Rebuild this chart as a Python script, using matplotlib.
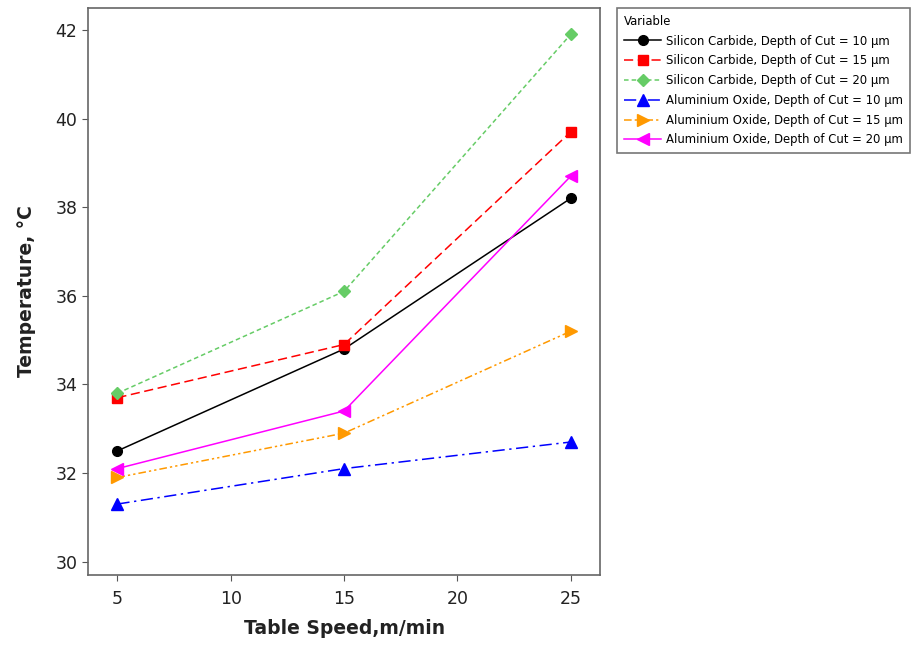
import matplotlib.pyplot as plt

# table speed (m/min) and measured temperatures (deg C)
speed = [5, 15, 25]
sic_10 = [32.5, 34.8, 38.2]
sic_15 = [33.7, 34.9, 39.7]
sic_20 = [33.8, 36.1, 41.9]
alo_10 = [31.3, 32.1, 32.7]
alo_15 = [31.9, 32.9, 35.2]
alo_20 = [32.1, 33.4, 38.7]

labels = [
    'Silicon Carbide, Depth of Cut = 10 µm',
    'Silicon Carbide, Depth of Cut = 15 µm',
    'Silicon Carbide, Depth of Cut = 20 µm',
    'Aluminium Oxide, Depth of Cut = 10 µm',
    'Aluminium Oxide, Depth of Cut = 15 µm',
    'Aluminium Oxide, Depth of Cut = 20 µm',
]
series = [sic_10, sic_15, sic_20, alo_10, alo_15, alo_20]

colors = ['black', '#ff0000', '#66cc66', '#0000ff', '#ff9900', '#ff00ff']
markers = ['o', 's', 'D', '^', '>', '<']
styles = ['-', (0, (6, 3)), (0, (3, 2)), (0, (8, 3, 1.5, 3)),
          (0, (5, 2, 1.5, 2, 1.5, 2)), '-']
msizes = [7, 7, 6, 8, 8, 8]

fig = plt.figure(figsize=(9.23, 6.46), dpi=100)
ax = fig.add_axes([0.0953, 0.110, 0.555, 0.878])

for y, lab, c, m, ls, ms in zip(series, labels, colors, markers, styles, msizes):
    ax.plot(speed, y, color=c, marker=m, linestyle=ls, linewidth=1.1,
            markersize=ms, label=lab)

ax.set_xlim(3.7, 26.3)
ax.set_ylim(29.7, 42.5)
ax.set_xticks([5, 10, 15, 20, 25])
ax.set_yticks([30, 32, 34, 36, 38, 40, 42])
ax.tick_params(labelsize=12.5, length=4, color='#555555', labelcolor='#222222')
ax.tick_params(axis='x', pad=7)
for spine in ax.spines.values():
    spine.set_edgecolor('#666666')
    spine.set_linewidth(1.2)

ax.set_xlabel('Table Speed,m/min', fontsize=13.5, fontweight='bold',
              color='#222222', labelpad=8)
ax.set_ylabel('Temperature, °C', fontsize=13.5, fontweight='bold',
              color='#222222', labelpad=14)

leg = fig.legend(loc='upper left', bbox_to_anchor=(0.6685, 0.988),
                 bbox_transform=fig.transFigure, borderaxespad=0,
                 title='Variable', fontsize=8.4, title_fontsize=8.4,
                 fancybox=False, edgecolor='#777777', framealpha=1,
                 handlelength=3.2, labelspacing=0.58, borderpad=0.6,
                 handletextpad=0.4)
leg._legend_box.align = 'left'
leg.get_frame().set_linewidth(1.2)

plt.savefig('out.png', dpi=100)
